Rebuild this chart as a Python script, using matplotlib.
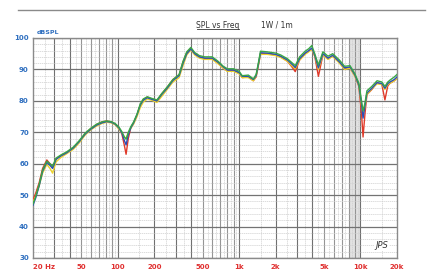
import matplotlib
matplotlib.use("Agg")
import matplotlib.pyplot as plt
from matplotlib.lines import Line2D
import numpy as np

# ---- data ----
freq = [20, 21, 22.5, 24, 26, 27.6, 29, 31, 34, 38, 43, 48, 54, 60, 67, 74, 81, 88, 95,
        102, 108, 113, 117, 122, 128, 135, 144, 153, 162, 175, 190, 210, 230, 255, 285,
        320, 345, 370, 400, 430, 470, 520, 600, 670, 740, 800, 900, 1000, 1060, 1190,
        1310, 1380, 1430, 1500, 1700, 2000, 2200, 2500, 2750, 2900, 3150, 3500, 3750,
        3970, 4200, 4500, 4900, 5400, 5900, 6700, 7400, 8200, 9000, 9700, 10200, 10500,
        10900, 11300, 12400, 13700, 15000, 15900, 16800, 17500, 19000, 20000]

spl_red = [48.5, 50.5, 54, 58.5, 61.2, 60, 58.8, 61.5, 62.6, 63.6, 65, 67, 69.6, 71.2, 72.5,
           73.3, 73.6, 73.3, 72.7, 71.4, 69.5, 66, 63, 68, 71.5, 73, 75.5, 78.6, 80.4, 81.2,
           80.6, 80, 82.2, 84.3, 86.8, 88.2, 92.4, 95.3, 96.6, 95, 94, 93.5, 93.4, 92, 90.4,
           89.5, 89.6, 88.8, 87.4, 87.6, 86.4, 87.6, 90.6, 95, 95, 94.6, 94, 92.6, 90.6, 89.3,
           93, 95, 95.8, 96.5, 94.2, 87.8, 94.6, 93.4, 94.2, 92.2, 90.2, 90.5, 88, 84.6, 76,
           68.5, 76, 82, 83.6, 85.8, 85.2, 80.3, 84.8, 85.6, 86.4, 87.2]
spl_yellow = [47.8, 49.5, 53, 57, 59.8, 58.5, 57, 60.6, 62, 63.2, 64.6, 66.6, 69.2, 70.8, 72,
              72.8, 73.2, 73, 72.4, 71, 69.8, 68.5, 68, 69.8, 71.2, 72.6, 75, 77.8, 79.6, 80.6,
              80.2, 79.5, 81.4, 83.6, 86, 87.4, 91.2, 94.6, 96.2, 94.6, 93.6, 93.2, 93.2, 91.8,
              90.4, 89.4, 89.4, 88.6, 87.4, 87.4, 86.4, 87.8, 90.8, 94.8, 94.8, 94.4, 93.8, 92.6,
              91, 90.2, 93, 94.8, 95.6, 96.4, 94.2, 90, 94.6, 93.2, 94.2, 92, 90, 90.4, 87.8,
              84.8, 78.6, 75.5, 78.2, 82, 83.8, 85.4, 85.2, 83.6, 85.2, 85.6, 86.4, 87.2]
spl_blue = [46.8, 49, 53, 57.6, 60.4, 59.5, 58.5, 61.4, 62.5, 63.5, 65, 67, 69.5, 71, 72.3,
            73, 73.4, 73.2, 72.6, 71.4, 69.8, 67.5, 66, 69.2, 71.4, 73, 75.6, 78.6, 80.2, 81,
            80.5, 80, 82, 84, 86.5, 88, 92, 95, 96.5, 95, 94, 93.6, 93.6, 92.3, 90.8, 89.8,
            89.8, 89, 87.8, 87.8, 86.8, 88, 91, 95.3, 95.2, 94.8, 94.2, 93, 91.5, 90.6, 93.4,
            95.2, 96, 96.8, 94.5, 90.5, 95, 93.6, 94.5, 92.4, 90.5, 90.8, 88.2, 85, 79, 74.5,
            78.5, 82.5, 84, 85.8, 85.5, 84, 85.5, 86, 86.8, 87.6]
spl_green = [47.2, 49.4, 53.4, 58, 60.8, 60, 59.2, 61.8, 62.8, 63.8, 65.3, 67.3, 69.8, 71.3,
             72.6, 73.3, 73.6, 73.4, 72.8, 71.7, 70.2, 68.6, 67.8, 70, 71.8, 73.3, 75.8, 79,
             80.6, 81.3, 80.8, 80.3, 82.3, 84.4, 86.8, 88.4, 92.6, 95.6, 97, 95.4, 94.4, 94,
             94, 92.6, 91, 90.2, 90.2, 89.4, 88, 88.2, 87, 88.4, 91.4, 95.8, 95.6, 95.2, 94.6,
             93.4, 92, 91.2, 94, 95.8, 96.6, 97.6, 95, 91.4, 95.6, 94.2, 95, 93, 91, 91.2, 88.6,
             85.6, 80, 76.8, 79.4, 83.2, 84.6, 86.4, 86, 84.6, 86, 86.6, 87.6, 88.4]

xtick_vals = [20, 50, 100, 200, 500, 1000, 2000, 5000, 10000, 20000]
xtick_labels = ["20 Hz", "50", "100", "200", "500", "1k", "2k", "5k", "10k", "20k"]
ytick_vals = [30, 40, 50, 60, 70, 80, 90, 100]

W, H = 433, 273
fig = plt.figure(figsize=(W / 100, H / 100), dpi=100)
fig.patch.set_facecolor("white")
ax = fig.add_axes([33 / W, 1 - 258 / H, 364 / W, 220 / H])
ax.set_xscale("log")
ax.set_xlim(20, 20000)
ax.set_ylim(30, 100)

# shaded band
ax.axvspan(8000, 10000, color="#e2e2e2", zorder=0, lw=0)

# grid
for d in [10, 100, 1000, 10000]:
    for m in range(1, 10):
        f = d * m
        if 20 < f < 20000:
            col = "#707070" if m in (1, 2, 3, 4) else "#959595"
            ax.axvline(f, color=col, lw=0.8, zorder=1)
        fh = d * (m + 0.5)
        if 20 < fh < 20000:
            ax.axvline(fh, color="#cfcfcf", lw=0.5, ls=(0, (2, 1)), zorder=1)
for y in range(30, 101, 2):
    if y % 10 == 0:
        ax.axhline(y, color="#737373", lw=0.9, zorder=1)
    else:
        ax.axhline(y, color="#cfcfcf", lw=0.5, ls=(0, (2, 1)), zorder=1)

# curves
for vals, col in [(spl_red, "#e03a2a"), (spl_yellow, "#ecd22a"),
                  (spl_blue, "#2a4fb8"), (spl_green, "#3aa646")]:
    ax.plot(freq, vals, color=col, lw=1.0, zorder=3)

for s in ax.spines.values():
    s.set_color("#8a8a8a")
    s.set_linewidth(1.0)

ax.set_xticks(xtick_vals)
ax.set_xticklabels(xtick_labels)
ax.xaxis.set_minor_locator(matplotlib.ticker.NullLocator())
ax.set_yticks(ytick_vals)
ax.tick_params(axis="both", length=0, labelsize=5)
ax.tick_params(axis="x", colors="#e03030", pad=4)
ax.tick_params(axis="y", colors="#3070c0", pad=3)
for lbl in ax.get_xticklabels():
    lbl.set_color("#e03030")
    lbl.set_fontweight("bold")
for lbl in ax.get_yticklabels():
    lbl.set_color("#3070c0")
    lbl.set_fontweight("bold")
ax.get_xticklabels()[0].set_horizontalalignment("left")

# header
fig.add_artist(Line2D([18 / W, 425 / W], [1 - 10 / H, 1 - 10 / H], color="#8a8a8a", lw=1.0))
fig.text(218 / W, 1 - 25 / H, "SPL vs Freq", ha="center", va="center", fontsize=5.5, color="#333333")
fig.add_artist(Line2D([197 / W, 239 / W], [1 - 29 / H, 1 - 29 / H], color="#333333", lw=0.6))
fig.text(277 / W, 1 - 25 / H, "1W / 1m", ha="center", va="center", fontsize=5.5, color="#333333")
fig.text(48 / W, 1 - 33 / H, "dBSPL", ha="center", va="center", fontsize=4.5, color="#3070c0",
         fontweight="bold")
ax.text(0.975, 0.035, "JPS", transform=ax.transAxes, ha="right", va="bottom", fontsize=6,
        style="italic", color="#333333", zorder=4,
        bbox=dict(facecolor="white", edgecolor="none", pad=0.5))

fig.savefig("out.png", dpi=100)
